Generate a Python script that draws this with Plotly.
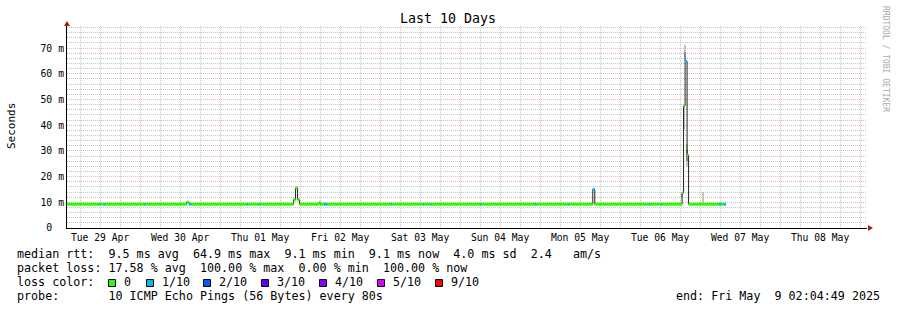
import plotly.graph_objects as go
import pandas as pd

# ---------------- data ----------------
START = "2025-04-29 02:04:49"
END = "2025-05-09 02:04:49"
DATA_END = "2025-05-07 07:48"   # after this: 100 % loss, no median

day_labels = ["Tue 29 Apr", "Wed 30 Apr", "Thu 01 May", "Fri 02 May", "Sat 03 May",
              "Sun 04 May", "Mon 05 May", "Tue 06 May", "Wed 07 May", "Thu 08 May"]
day_noons = ["2025-04-29 12:00", "2025-04-30 12:00", "2025-05-01 12:00", "2025-05-02 12:00",
             "2025-05-03 12:00", "2025-05-04 12:00", "2025-05-05 12:00", "2025-05-06 12:00",
             "2025-05-07 12:00", "2025-05-08 12:00"]

y_ticks = [0, 10, 20, 30, 40, 50, 60, 70]
y_labels = ["0\u00a0\u00a0", "10 m", "20 m", "30 m", "40 m", "50 m", "60 m", "70 m"]

# median RTT (ms) as a step series: each value holds until the next time
med_time = [
    "2025-04-29 02:04:49", "2025-04-29 11:24", "2025-04-29 11:42", "2025-04-29 13:12",
    "2025-04-29 13:30", "2025-04-30 01:12", "2025-04-30 01:30", "2025-04-30 13:57",
    "2025-04-30 14:42", "2025-04-30 15:18", "2025-05-01 08:06", "2025-05-01 08:24",
    "2025-05-01 11:24", "2025-05-01 11:42", "2025-05-01 22:03", "2025-05-01 22:39",
    "2025-05-01 23:15", "2025-05-01 23:51", "2025-05-02 05:42", "2025-05-02 06:00",
    "2025-05-02 07:12", "2025-05-02 08:06", "2025-05-03 03:18", "2025-05-03 03:36",
    "2025-05-03 12:54", "2025-05-03 13:12", "2025-05-03 15:00", "2025-05-03 15:18",
    "2025-05-04 06:00", "2025-05-04 06:18", "2025-05-04 22:30", "2025-05-04 22:48",
    "2025-05-05 08:24", "2025-05-05 08:42", "2025-05-05 15:49", "2025-05-05 16:25",
    "2025-05-06 08:42", "2025-05-06 09:00", "2025-05-06 12:18", "2025-05-06 12:36",
    "2025-05-06 18:36", "2025-05-06 19:03", "2025-05-06 19:30", "2025-05-06 20:06",
    "2025-05-06 20:33", "2025-05-07 05:42", "2025-05-07 06:18", "2025-05-07 07:12",
]
med_ms = [
    9.25, 9.25, 9.25, 9.25,
    9.25, 9.25, 9.25, 10.0,
    9.25, 9.25, 9.25, 9.25,
    9.25, 9.25, 11.0, 15.6,
    11.0, 9.25, 10.0, 9.25,
    9.25, 9.25, 9.25, 9.25,
    9.25, 9.25, 9.25, 9.25,
    9.25, 9.25, 9.25, 9.25,
    9.25, 9.25, 15.0, 9.25,
    9.25, 9.25, 9.25, 9.25,
    13.6, 47.5, 64.9, 28.4,
    9.25, 9.25, 9.25, 9.25,
]
med_loss = [  # lost pings out of 10
    0, 1, 0, 1,
    0, 1, 0, 0,
    1, 0, 1, 0,
    1, 0, 0, 0,
    0, 0, 0, 0,
    1, 0, 1, 0,
    1, 0, 1, 0,
    1, 0, 1, 0,
    1, 0, 1, 0,
    1, 0, 1, 0,
    0, 0, 1, 0,
    0, 1, 0, 1,
]

# smoke (spread of individual pings) where visible
smoke_time = ["2025-05-06 18:45", "2025-05-06 19:12", "2025-05-06 19:39", "2025-05-06 19:39",
              "2025-05-06 20:15", "2025-05-06 20:15", "2025-05-07 00:59"]
smoke_lo = [12.0, 38.0, 65.0, 68.5, 24.0, 26.0, 9.4]
smoke_hi = [13.6, 47.5, 68.5, 71.3, 32.5, 30.5, 14.2]
smoke_band = ["outer", "outer", "inner", "outer", "outer", "inner", "outer"]

loss_levels = [0, 1, 2, 3, 4, 5, 9]
loss_names = ["0", "1/10", "2/10", "3/10", "4/10", "5/10", "9/10"]

stats_rtt = "median rtt:  9.5 ms avg  64.9 ms max  9.1 ms min  9.1 ms now  4.0 ms sd  2.4   am/s"
stats_loss = "packet loss: 17.58 % avg  100.00 % max  0.00 % min  100.00 % now"
probe_text = "probe:       10 ICMP Echo Pings (56 Bytes) every 80s"
end_text = "end: Fri May  9 02:04:49 2025"

# ---------------- styling ----------------
FONT = "DejaVu Sans Mono"
LOSS_COLORS = {0: "#26ff00", 1: "#00b8ff", 2: "#0059ff", 3: "#5e00ff",
               4: "#7e00ff", 5: "#dd00ff", 9: "#ff0000"}
SMOKE_COLORS = {"outer": "#c4c4c4", "inner": "#8c8c8c"}
MGRID = "rgba(230,110,110,0.5)"
GRID = "rgba(150,150,150,0.55)"
DOT = "1px,1px"

L, R, T, B = 67, 30, 26, 82
W, H = 897, 310
PW, PH = W - L - R, H - T - B


def px(xp):
    return (xp - L) / PW


def py(yp):
    return (H - B - yp) / PH


def nb(s):
    return s.replace(" ", "\u00a0")


fig = go.Figure()

# smoke
fig.add_trace(go.Bar(
    x=smoke_time, base=smoke_lo,
    y=[h - l for h, l in zip(smoke_hi, smoke_lo)],
    width=[27 * 60 * 1000] * 6 + [36 * 60 * 1000],
    marker=dict(color=[SMOKE_COLORS[b] for b in smoke_band], line=dict(width=0)),
    hoverinfo="skip"))

# thin dark median line
fig.add_trace(go.Scatter(
    x=med_time + [DATA_END], y=med_ms + [med_ms[-1]],
    mode="lines", line=dict(color="#202020", width=1, shape="hv"),
    hoverinfo="skip"))

# loss-coloured median segments
ends = med_time[1:] + [DATA_END]
for lvl in loss_levels:
    xs, ys = [], []
    for t0, t1, v, ls in zip(med_time, ends, med_ms, med_loss):
        if ls == lvl:
            xs += [t0, t1, None]
            ys += [v, v, None]
    if xs:
        fig.add_trace(go.Scatter(x=xs, y=ys, mode="lines",
                                 line=dict(color=LOSS_COLORS[lvl], width=3),
                                 hoverinfo="skip"))

# invisible trace for the major-grid overlay axis
fig.add_trace(go.Scatter(x=[START, END], y=[None, None], xaxis="x2",
                         mode="lines", hoverinfo="skip"))

six_hours = [t for t in pd.date_range("2025-04-29 06:00", "2025-05-09 00:00", freq="6h")
             if t.hour != 0]
midnights = list(pd.date_range("2025-04-30 00:00", "2025-05-09 00:00", freq="1D"))
minor_y = [v for v in range(2, 79, 2) if v % 10 != 0]

fig.update_layout(
    width=W, height=H, margin=dict(l=L, r=R, t=T, b=B),
    paper_bgcolor="white", plot_bgcolor="white", showlegend=False,
    barmode="overlay", bargap=0,
    font=dict(family=FONT, color="black"),
    xaxis=dict(type="date", range=[START, END], tickmode="array",
               tickvals=day_noons, ticktext=day_labels, showgrid=False,
               zeroline=False, showline=True, linecolor="black", linewidth=1,
               ticks="", tickfont=dict(family=FONT, size=9.7, color="black"),
               minor=dict(tickvals=six_hours, showgrid=True, gridcolor=GRID,
                          griddash=DOT, gridwidth=1, ticks=""),
               fixedrange=True),
    xaxis2=dict(type="date", range=[START, END], overlaying="x", side="bottom",
                tickmode="array", tickvals=midnights, showticklabels=False,
                showgrid=True, gridcolor=MGRID, griddash=DOT, gridwidth=1,
                zeroline=False, showline=False, ticks="", fixedrange=True),
    yaxis=dict(range=[0, 78.6], tickmode="array", tickvals=y_ticks, ticktext=y_labels,
               showgrid=True, gridcolor=MGRID, griddash=DOT, gridwidth=1,
               zeroline=False, showline=True, linecolor="black", linewidth=1,
               ticks="", tickfont=dict(family=FONT, size=9.8, color="black"),
               minor=dict(tickvals=minor_y, showgrid=True, gridcolor=GRID,
                          griddash=DOT, gridwidth=1, ticks=""),
               fixedrange=True),
)

ARROW = "#a02020"
shapes = [
    dict(type="path", xref="paper", yref="paper",
         path=f"M {px(868)},{py(225)} L {px(873)},{py(228)} L {px(868)},{py(231)} Z",
         fillcolor=ARROW, line=dict(width=0)),
    dict(type="path", xref="paper", yref="paper",
         path=f"M {px(64)},{py(26)} L {px(67)},{py(21)} L {px(70)},{py(26)} Z",
         fillcolor=ARROW, line=dict(width=0)),
]

annotations = [
    dict(text="Last 10 Days", x=px(448), y=py(19), xanchor="center", yanchor="middle",
         font=dict(family=FONT, size=13.3, color="black")),
    dict(text="Seconds", x=px(11), y=py(126), textangle=-90, xanchor="center",
         yanchor="middle", font=dict(family=FONT, size=11, color="black")),
    dict(text=nb("RRDTOOL / TOBI OETIKER"), x=px(886), y=py(59), textangle=90,
         xanchor="center", yanchor="middle", font=dict(family=FONT, size=8, color="#aaaaaa")),
]
LEG = dict(family=FONT, size=11.7, color="black")
for txt, yc in [(stats_rtt, 254), (stats_loss, 268), ("loss color:", 282), (probe_text, 296)]:
    annotations.append(dict(text=nb(txt), x=px(15), y=py(yc), xanchor="left",
                            yanchor="middle", font=LEG))
annotations.append(dict(text=nb(end_text), x=px(882), y=py(296), xanchor="right",
                        yanchor="middle", font=LEG))

box_x = [108, 146, 203, 261, 319, 377, 435]
for bx, lvl, name in zip(box_x, loss_levels, loss_names):
    shapes.append(dict(type="rect", xref="paper", yref="paper",
                       x0=px(bx + 0.5), x1=px(bx + 7.5), y0=py(286.5), y1=py(279.5),
                       fillcolor=LOSS_COLORS[lvl], line=dict(color="black", width=1)))
    annotations.append(dict(text=name, x=px(bx + 14), y=py(282), xanchor="left",
                            yanchor="middle", font=LEG))

for a in annotations:
    a["showarrow"] = False
    a["xref"] = "paper"
    a["yref"] = "paper"

fig.update_layout(shapes=shapes, annotations=annotations)
fig.write_html("out.html", config={"displayModeBar": False})
